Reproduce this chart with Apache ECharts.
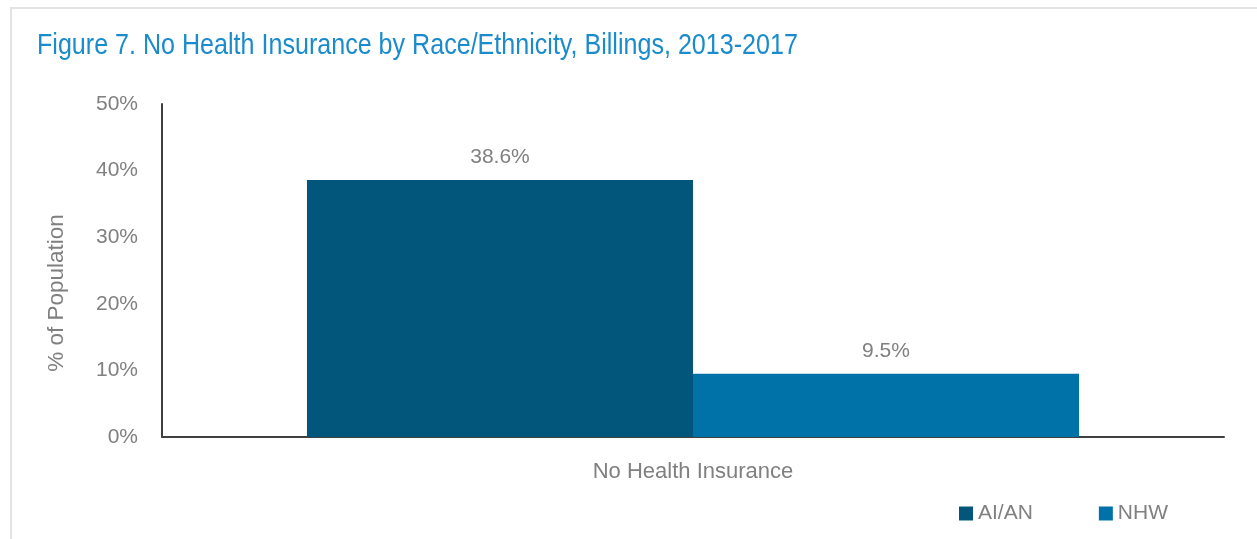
<!DOCTYPE html>
<html>
<head>
<meta charset="utf-8">
<script src="https://cdn.jsdelivr.net/npm/echarts@6/dist/echarts.min.js"></script>
<style>
html,body{margin:0;padding:0;background:#fff;}
#c{width:1257px;height:539px;}
</style>
</head>
<body>
<div id="c"></div>
<script>
const categories = ['No Health Insurance'];
const seriesNames = ['AI/AN', 'NHW'];
const aianValues = [38.6];
const nhwValues = [9.5];
const yTicks = [0, 10, 20, 30, 40, 50];
const titleText = 'Figure 7. No Health Insurance by Race/Ethnicity, Billings, 2013-2017';
const yAxisTitle = '% of Population';

const FONT = "'Liberation Sans Narrow', 'Arial Narrow', 'Liberation Sans', sans-serif";
const GRAY = '#808080';

const chart = echarts.init(document.getElementById('c'), null, {renderer: 'canvas'});
chart.setOption({
  animation: false,
  backgroundColor: '#fff',
  graphic: [
    {type: 'rect', shape: {x: 11, y: 8, width: 1300, height: 600}, style: {fill: 'none', stroke: '#e3e3e3', lineWidth: 2}, silent: true},
    {type: 'text', x: 37, y: 46, scaleX: 0.865,
     style: {text: titleText, fill: '#1a8bcc', font: "29px " + FONT, align: 'left', verticalAlign: 'middle'}},
    {type: 'text', x: 57, y: 293, rotation: Math.PI / 2,
     style: {text: yAxisTitle, fill: GRAY, font: "22.5px " + FONT, align: 'center', verticalAlign: 'middle'}}
  ],
  legend: {
    data: seriesNames,
    right: 84, top: 498,
    icon: 'rect', itemWidth: 14, itemHeight: 14, itemGap: 66,
    textStyle: {color: GRAY, fontFamily: FONT, fontSize: 21}
  },
  grid: {left: 162, right: 33, top: 104, bottom: 102},
  xAxis: {
    type: 'category', data: categories,
    axisLine: {lineStyle: {color: '#404040', width: 2}},
    axisTick: {show: false},
    axisLabel: {color: GRAY, fontFamily: FONT, fontSize: 22, margin: 24}
  },
  yAxis: {
    type: 'value', min: yTicks[0], max: yTicks[yTicks.length - 1], interval: 10,
    axisLine: {show: true, lineStyle: {color: '#404040', width: 2}},
    axisTick: {show: false},
    splitLine: {show: false},
    axisLabel: {color: GRAY, fontFamily: FONT, fontSize: 21, margin: 24, formatter: '{value}%'}
  },
  series: [
    {name: seriesNames[0], type: 'bar', data: aianValues, barGap: '0%', barCategoryGap: '27.3%',
     itemStyle: {color: '#02567c'},
     label: {show: true, position: 'top', distance: 12, formatter: '{c}%', color: GRAY, fontFamily: FONT, fontSize: 21}},
    {name: seriesNames[1], type: 'bar', data: nhwValues, barGap: '0%', barCategoryGap: '27.3%',
     itemStyle: {color: '#0072a7'},
     label: {show: true, position: 'top', distance: 12, formatter: '{c}%', color: GRAY, fontFamily: FONT, fontSize: 21}}
  ]
});
</script>
</body>
</html>
